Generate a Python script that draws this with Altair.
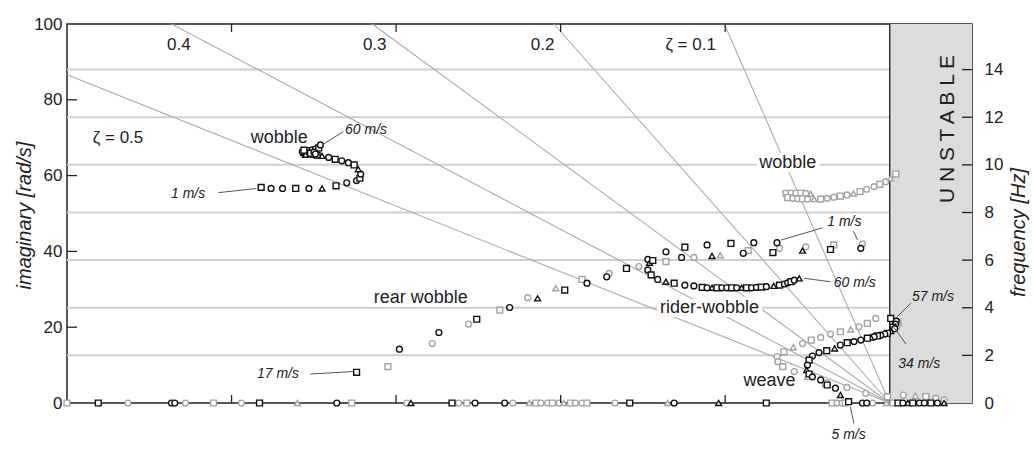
import math
import altair as alt
import pandas as pd

# ---------------- data ----------------
# black markers
black_wobble_re = [-38.2, -37.6, -36.9, -36.1, -35.3, -34.5, -33.65, -33.0, -32.4, -32.2, -32.15, -32.3,
                   -32.55, -32.9, -33.3, -33.7, -34.1, -34.5, -34.8, -35.1, -35.4, -35.6, -35.7, -35.5,
                   -35.3, -35.1, -34.9, -34.7, -34.6, -35.5, -35.2, -35.0, -34.9, -35.6]
black_wobble_im = [56.9, 56.6, 56.6, 56.6, 56.6, 56.6, 57.3, 58.1, 58.7, 59.3, 60.4, 61.7,
                   62.8, 63.4, 63.9, 64.3, 64.8, 65.2, 65.4, 65.6, 65.8, 66.0, 66.3, 66.5,
                   66.6, 66.8, 67.0, 67.3, 68.1, 65.5, 65.9, 66.2, 65.7, 66.7]

black_rider_re = [-32.4, -29.8, -27.4, -25.1, -23.1, -21.4, -19.75, -18.4, -17.2, -16.0,
                  -14.7, -14.6, -14.4, -13.6, -12.65, -12.45, -11.1, -10.8, -9.65, -8.9, -8.26, -7.1,
                  -6.85, -5.3, -3.6, -1.76,
                  -14.7, -14.5, -14.1, -13.6, -13.1, -12.45, -11.9, -11.4, -11.1, -10.8, -10.5, -10.2,
                  -9.9, -9.6, -9.3, -9.0, -8.7, -8.4, -8.1, -7.8, -7.5, -7.05, -6.7, -6.4, -6.2, -6.0,
                  -5.8, -5.5]
black_rider_im = [8.1, 14.2, 18.6, 22.1, 25.2, 27.6, 29.8, 31.6, 33.3, 35.5,
                  37.9, 37.0, 37.6, 39.9, 38.4, 41.1, 41.7, 38.8, 42.1, 39.5, 42.3, 39.7,
                  42.3, 40.2, 40.5, 40.8,
                  35.1, 33.8, 32.6, 32.0, 31.6, 31.1, 30.9, 30.5, 30.4, 30.4, 30.4, 30.4,
                  30.4, 30.4, 30.4, 30.4, 30.4, 30.4, 30.5, 30.6, 30.7, 30.9, 31.1, 31.4, 31.7, 32.0,
                  32.4, 32.9]

black_weave_re = [0.06, 0.4, 0.35, 0.2, 0.3, 0.06, -0.14, -0.3, -0.55, -0.75, -0.95, -1.15, -1.36,
                  -1.76, -2.17, -2.58, -3.0, -3.35, -3.83, -4.3, -4.7, -4.9, -5.0, -5.05, -4.9,
                  -4.7, -4.2, -3.8, -3.3, -3.0, -2.5]
black_weave_im = [22.3, 21.6, 20.8, 20.0, 19.6, 19.0, 18.4, 18.2, 17.9, 17.7, 17.5, 17.3, 17.1,
                  16.6, 16.2, 15.9, 15.3, 14.4, 13.8, 13.3, 12.4, 11.3, 10.0, 8.7, 7.65,
                  6.9, 6.1, 4.75, 3.9, 2.1, 0.35]

black_real_re = [-48.1, -43.65, -43.45, -38.3, -33.6, -29.1, -26.6, -25.2, -23.4, -15.8, -13.1,
                 -10.4, -7.5, -1.66, -1.4, 0.5, 0.8, 1.1, 1.4, 1.8, 2.1, 2.5, 2.9, 3.3]

# grey markers
grey_wobble_re = [-6.3, -6.0, -5.7, -5.4, -5.1, -4.8, -6.2, -5.9, -5.6, -5.3, -5.0, -4.6, -4.2,
                  -3.8, -3.4, -3.0, -2.6, -2.2, -1.8, -1.4, -0.95, -0.6, -0.24, 0.05, 0.37]
grey_wobble_im = [55.3, 55.4, 55.4, 55.4, 55.3, 55.2, 54.2, 54.0, 53.9, 53.9, 53.8, 53.8, 53.8,
                  54.0, 54.3, 54.6, 54.9, 55.3, 55.8, 56.4, 57.1, 57.7, 58.4, 59.3, 60.4]

grey_rider_re = [-30.5, -27.8, -25.6, -23.7, -22.0, -20.3, -18.7, -17.05, -15.25, -13.6, -11.9,
                 -10.3, -8.6, -6.7, -5.1, -3.4, -1.66]
grey_rider_im = [9.6, 15.7, 20.8, 24.5, 27.8, 30.3, 32.6, 34.2, 36.0, 37.3, 38.4,
                 39.0, 40.2, 40.8, 41.2, 41.7, 42.0]

grey_weave_re = [0.5, 0.45, -0.85, -1.36, -1.87, -2.37, -3.0, -3.6, -4.2, -4.77, -5.3, -5.86,
                 -6.43, -6.84, -6.8, -6.5, -5.8, -5.0, -3.9, -2.6, -1.46, -0.14,
                 0.83, 1.56, 2.2, 2.8, 3.3]
grey_weave_im = [21.2, 20.3, 22.3, 21.0, 20.1, 19.4, 18.8, 18.2, 17.3, 16.6, 15.7, 14.7,
                 13.5, 12.2, 10.9, 9.6, 8.3, 6.9, 5.2, 4.1, 2.55, 1.67,
                 2.1, 1.85, 1.7, 1.2, 0.8]

grey_real_re = [-50.0, -46.3, -42.8, -41.1, -39.4, -36.0, -32.7, -29.35, -26.2, -25.7, -22.9,
                -21.9, -21.5, -21.2, -20.8, -20.5, -20.1, -19.8, -19.4, -19.1, -18.7, -18.4,
                -16.7, -13.5, -3.5, -3.2, -2.9, -2.7, -1.04, -0.2, 0.2]

# damping-ratio lines and labels
zeta_values = [0.1, 0.2, 0.3, 0.4, 0.5]
zeta_label_text = ["ζ = 0.1", "0.2", "0.3", "0.4", "ζ = 0.5"]
zeta_label_re = [-12.1, -21.1, -31.3, -43.2, -46.9]
zeta_label_im = [94.5, 94.5, 94.5, 94.5, 69.8]

# frequency grid (Hz)
freq_ticks_hz = [0, 2, 4, 6, 8, 10, 12, 14]
freq_grid_hz = [2, 4, 6, 8, 10, 12, 14]

# mode labels
mode_text = ["wobble", "wobble", "rear wobble", "rider-wobble", "weave"]
mode_re = [-37.1, -6.2, -28.5, -10.95, -7.3]
mode_im = [69.8, 63.2, 27.6, 25.0, 5.9]

# speed labels
speed_left_text = ["60 m/s", "1 m/s", "60 m/s", "57 m/s", "34 m/s"]
speed_left_re = [-33.1, -3.8, -3.4, 1.35, 0.52]
speed_left_im = [72.0, 47.8, 31.6, 27.9, 10.3]
speed_right_text = ["1 m/s", "17 m/s"]
speed_right_re = [-41.6, -35.9]
speed_right_im = [55.1, 7.65]
speed_center_text = ["5 m/s"]
speed_center_re = [-2.5]
speed_center_im = [-8.4]

# pointer lines (label -> marker)
ptr_re1 = [-34.5, -40.8, -35.2, -6.6, -2.2, -5.2, 1.3, 1.0, -2.18]
ptr_im1 = [68.1, 55.5, 7.65, 43.0, 45.3, 32.9, 26.4, 15.5, -5.4]
ptr_re2 = [-33.2, -38.5, -32.6, -4.1, -1.95, -3.6, 0.4, 0.25, -2.39]
ptr_im2 = [71.6, 56.6, 8.3, 46.2, 43.0, 32.0, 22.5, 20.0, -1.0]

x_tick_vals = [-40, -30, -20, -10]
y_tick_vals = [20, 40, 60, 80]

# ---------------- layout ----------------
W, H = 905, 379
FONT = "Liberation Sans"
xs = alt.Scale(domain=[-50, 5], nice=False, zero=False)
ys = alt.Scale(domain=[0, 100], nice=False, zero=False)
TWO_PI = 2 * math.pi

# ---------------- tables ----------------
shape_cycle = ["square", "circle", "circle", "square", "circle", "triangle-up"]
rows = []
def add(res, ims, grp):
    for i, (r, m) in enumerate(zip(res, ims)):
        rows.append({"re": r, "im": m, "grp": grp, "shape": shape_cycle[i % len(shape_cycle)]})

add(grey_wobble_re, grey_wobble_im, "grey")
add(grey_rider_re, grey_rider_im, "grey")
add(grey_weave_re, grey_weave_im, "grey")
add(grey_real_re, [0.0] * len(grey_real_re), "grey")
add(black_wobble_re, black_wobble_im, "black")
add(black_rider_re, black_rider_im, "black")
add(black_weave_re, black_weave_im, "black")
add(black_real_re, [0.0] * len(black_real_re), "black")
pts = pd.DataFrame(rows)

zrows = []
for z in zeta_values:
    m = math.sqrt(1 - z * z) / z
    xe = -100.0 / m
    ye = 100.0
    if xe < -50:
        xe = -50.0
        ye = 50.0 * m
    zrows.append({"x1": 0.0, "y1": 0.0, "x2": xe, "y2": ye})
zdf = pd.DataFrame(zrows)

grid_df = pd.DataFrame({"v": [TWO_PI * h for h in freq_grid_hz]})
ptr_df = pd.DataFrame({"x1": ptr_re1, "y1": ptr_im1, "x2": ptr_re2, "y2": ptr_im2})

def tdf(texts, res, ims):
    return pd.DataFrame({"t": texts, "re": res, "im": ims})

# ---------------- layers ----------------
grid = alt.Chart(grid_df).mark_rule(color="#cfcfcf", strokeWidth=2).encode(
    y=alt.Y("v:Q", scale=ys, axis=None), x=alt.value(0), x2=alt.value(W))

zlines = alt.Chart(zdf).mark_rule(color="#ababab", strokeWidth=1.1).encode(
    x=alt.X("x1:Q", scale=xs, axis=None), x2="x2:Q",
    y=alt.Y("y1:Q", scale=ys, axis=None), y2="y2:Q")

unstable_rect = alt.Chart(pd.DataFrame({"a": [0.0], "b": [5.0]})).mark_rect(
    color="#dcdcdc").encode(
    x=alt.X("a:Q", scale=xs, axis=None), x2="b:Q", y=alt.value(0), y2=alt.value(H))

zero_line = alt.Chart(pd.DataFrame({"a": [0.0]})).mark_rule(color="#333333", strokeWidth=1.5).encode(
    x=alt.X("a:Q", scale=xs, axis=None), y=alt.value(0), y2=alt.value(H))

def text_layer(df, size, align="center", italic=False, halo=False, angle=0):
    kw = dict(font=FONT, fontSize=size, align=align, baseline="middle",
              fontStyle="italic" if italic else "normal")
    if angle:
        kw["angle"] = angle
    if halo:
        mk = alt.Chart(df).mark_text(color="white", stroke="white", strokeWidth=8,
                                     strokeJoin="round", **kw)
    else:
        mk = alt.Chart(df).mark_text(color="#222222", **kw)
    return mk.encode(x=alt.X("re:Q", scale=xs, axis=None),
                     y=alt.Y("im:Q", scale=ys, axis=None), text="t:N")

mode_df = tdf(mode_text, mode_re, mode_im)
zeta_df = tdf(zeta_label_text, zeta_label_re, zeta_label_im)

halos = [text_layer(mode_df, 18, halo=True), text_layer(zeta_df, 17, halo=True)]

points = alt.Chart(pts).mark_point(filled=True, fill="white", strokeWidth=1.4, size=34, opacity=1).encode(
    x=alt.X("re:Q", scale=xs, axis=alt.Axis(
        values=[-50, -40, -30, -20, -10, 0], ticks=False, domain=False, grid=False,
        labelFontSize=17, labelFont=FONT, labelColor="#222222", labelPadding=7,
        labelFlush=False, labelOverlap=False,
        title="real [rad/s]", titleFont=FONT, titleFontSize=20, titleFontStyle="italic",
        titleFontWeight="normal", titleColor="#222222", titleX=403, titleY=24,
        titleBaseline="top")),
    y=alt.Y("im:Q", scale=ys, axis=alt.Axis(
        values=[0, 20, 40, 60, 80, 100], ticks=False, domain=False, grid=False,
        labelFontSize=17, labelFont=FONT, labelColor="#222222", labelPadding=5,
        labelFlush=False, labelOverlap=False,
        title="imaginary [rad/s]", titleFont=FONT, titleFontSize=20, titleFontStyle="italic",
        titleFontWeight="normal", titleColor="#222222", titleAngle=270, titleX=-43, titleY=191,
        titleBaseline="middle")),
    stroke=alt.Stroke("grp:N", scale=alt.Scale(domain=["black", "grey"], range=["#111111", "#a3a3a3"]),
                      legend=None),
    shape=alt.Shape("shape:N", scale=None),
)

pointers = alt.Chart(ptr_df).mark_rule(color="#555555", strokeWidth=1).encode(
    x=alt.X("x1:Q", scale=xs, axis=None), x2="x2:Q",
    y=alt.Y("y1:Q", scale=ys, axis=None), y2="y2:Q")

texts = [
    text_layer(mode_df, 18),
    text_layer(zeta_df, 17),
    text_layer(tdf(speed_left_text, speed_left_re, speed_left_im), 14, align="left", italic=True),
    text_layer(tdf(speed_right_text, speed_right_re, speed_right_im), 14, align="right", italic=True),
    text_layer(tdf(speed_center_text, speed_center_re, speed_center_im), 14, italic=True),
    text_layer(tdf(["U N S T A B L E"], [3.53], [72.3]), 21, angle=270),
]

xt_df = pd.DataFrame({"t": x_tick_vals})
yt_df = pd.DataFrame({"t": y_tick_vals})
ft_df = pd.DataFrame({"t": [TWO_PI * h for h in freq_grid_hz]})

bottom_ticks = alt.Chart(xt_df).mark_rule(color="#222222", strokeWidth=1.3).encode(
    x=alt.X("t:Q", scale=xs, axis=None), y=alt.value(H), y2=alt.value(H - 8))
top_ticks = alt.Chart(xt_df).mark_rule(color="#222222", strokeWidth=1.3).encode(
    x=alt.X("t:Q", scale=xs, axis=None), y=alt.value(0), y2=alt.value(8))
left_ticks = alt.Chart(yt_df).mark_rule(color="#222222", strokeWidth=1.3).encode(
    y=alt.Y("t:Q", scale=ys, axis=None), x=alt.value(0), x2=alt.value(10))
right_ticks = alt.Chart(ft_df).mark_rule(color="#222222", strokeWidth=1.3).encode(
    y=alt.Y("t:Q", scale=ys, axis=alt.Axis(
        orient="right", values=[TWO_PI * h for h in freq_ticks_hz],
        labelExpr="format(datum.value / (2 * PI), '.0f')",
        ticks=False, domain=False, grid=False,
        labelFontSize=17, labelFont=FONT, labelColor="#222222", labelPadding=12,
        labelFlush=False, labelOverlap=False,
        title="frequency [Hz]", titleFont=FONT, titleFontSize=20, titleFontStyle="italic",
        titleFontWeight="normal", titleColor="#222222", titleAngle=270, titleX=46, titleY=208,
        titleBaseline="middle")),
    x=alt.value(W), x2=alt.value(W - 10))

chart = alt.layer(
    grid, zlines, unstable_rect, zero_line, *halos, points, pointers, *texts,
    bottom_ticks, top_ticks, left_ticks, right_ticks,
).resolve_axis(y="independent").properties(
    width=W, height=H,
    autosize=alt.AutoSizeParams(type="none"),
    padding={"left": 67, "top": 24, "right": 63, "bottom": 54},
).configure(font=FONT, background="white").configure_view(stroke="#222222", strokeWidth=1.5)

chart.save("out.html", embed_options={"renderer": "svg", "actions": False})
